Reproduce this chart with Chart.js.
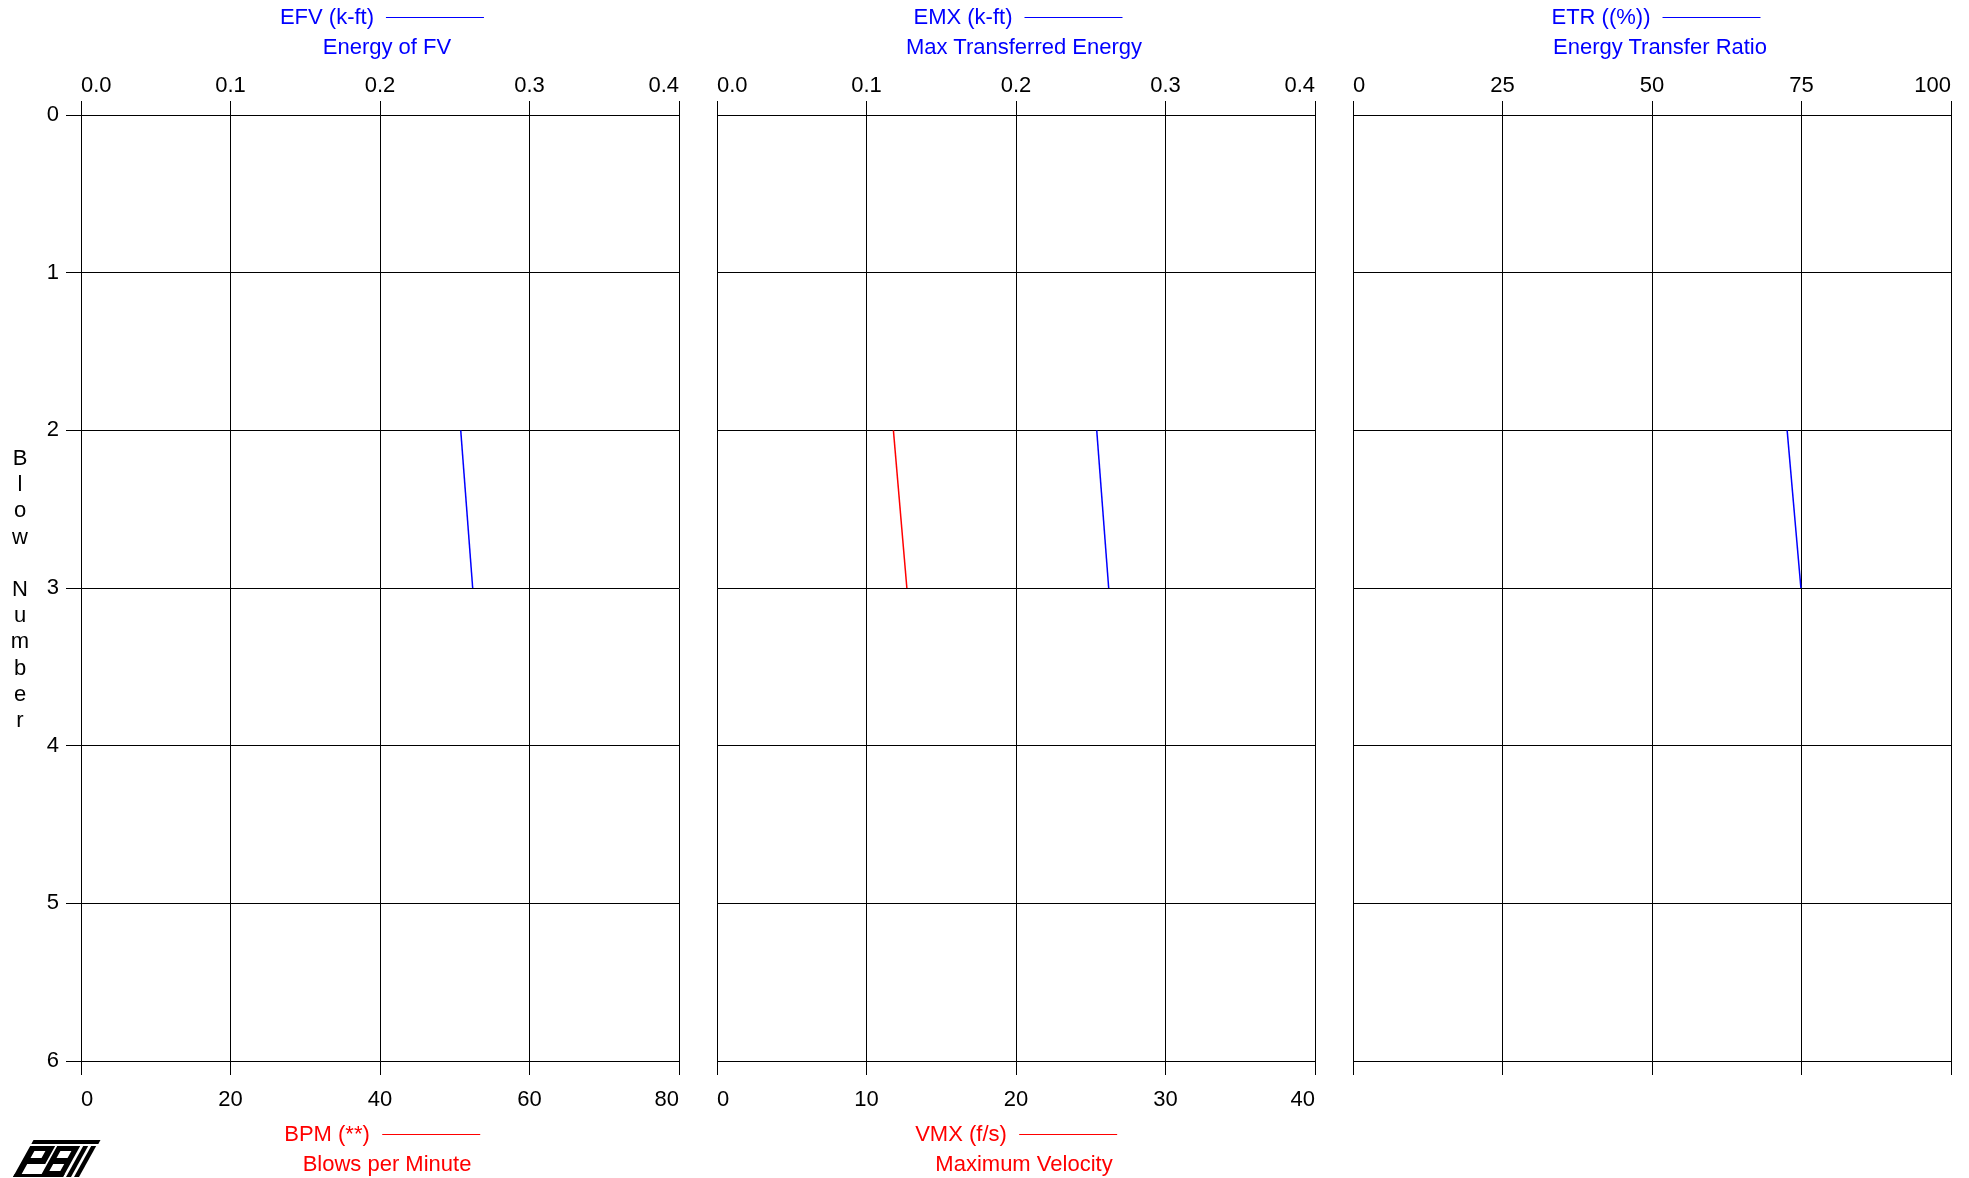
<!DOCTYPE html>
<html>
<head>
<meta charset="utf-8">
<script src="https://cdn.jsdelivr.net/npm/chart.js@4.4.1/dist/chart.umd.min.js"></script>
<style>
  html, body { margin: 0; padding: 0; background: #fff; }
  body { width: 1969px; height: 1178px; position: relative; overflow: hidden;
         font-family: "Liberation Sans", Arial, sans-serif; }
  canvas.panel { position: absolute; left: 0; top: 0; }
  .ttl { position: absolute; font-size: 22px; line-height: 24px; white-space: nowrap;
         transform: translateX(-50%); display: flex; align-items: center; }
  .ttl .key { display: inline-block; width: 98px; height: 0; border-top: 1px solid; margin-left: 12px; }
  .blue { color: #0000ff; }
  .red { color: #ff0000; }
  #ylab { position: absolute; left: 8px; top: 445px; width: 24px; font-size: 22px;
          line-height: 26.2px; text-align: center; color: #000; }
  #logo { position: absolute; left: 0; top: 1125px; }
</style>
</head>
<body>
<canvas id="p1" class="panel" width="1969" height="1178"></canvas>
<canvas id="p2" class="panel" width="1969" height="1178"></canvas>
<canvas id="p3" class="panel" width="1969" height="1178"></canvas>

<div class="ttl blue" style="left:382px; top:5px">EFV (k-ft)<span class="key"></span></div>
<div class="ttl blue" style="left:387px; top:35px">Energy of FV</div>
<div class="ttl blue" style="left:1018px; top:5px">EMX (k-ft)<span class="key"></span></div>
<div class="ttl blue" style="left:1024px; top:35px">Max Transferred Energy</div>
<div class="ttl blue" style="left:1656px; top:5px">ETR ((%))<span class="key"></span></div>
<div class="ttl blue" style="left:1660px; top:35px">Energy Transfer Ratio</div>
<div class="ttl red" style="left:382px; top:1122px">BPM (**)<span class="key"></span></div>
<div class="ttl red" style="left:387px; top:1152px">Blows per Minute</div>
<div class="ttl red" style="left:1016px; top:1122px">VMX (f/s)<span class="key"></span></div>
<div class="ttl red" style="left:1024px; top:1152px">Maximum Velocity</div>

<div id="ylab">B<br>l<br>o<br>w<br>&nbsp;<br>N<br>u<br>m<br>b<br>e<br>r</div>

<svg id="logo" width="110" height="53" viewBox="0 1125 110 53">
  <g transform="translate(13,1177) skewX(-29)" fill="#000">
    <rect x="0" y="-37" width="67" height="4"/>
    <path d="M0,-31 H25 V-13 H7 V0 H0 Z M7,-26 V-19 H18 V-26 Z" fill-rule="evenodd"/>
    <path d="M27,-31 H50 V0 H27 Z M33,-26 V-19 H44 V-26 Z M33,-13 V-6 H44 V-13 Z" fill-rule="evenodd"/>
    <rect x="53" y="-31" width="5" height="31"/>
    <rect x="61" y="-31" width="5" height="31"/>
    <rect x="0" y="-3" width="50" height="3"/>
  </g>
</svg>

<script>
// blow numbers (y axis)
var blowNumbers = [2, 3];

// panel 1: EFV (top axis), BPM (bottom axis, no data recorded)
var efvValues = [0.254, 0.262];
var bpmValues = [];

// panel 2: EMX (top axis), VMX (bottom axis)
var emxValues = [0.254, 0.262];
var vmxValues = [11.8, 12.7];

// panel 3: ETR (top axis)
var etrValues = [72.6, 74.9];

// axis ranges
var blowRange = [0, 6];
var energyRange = [0, 0.4];
var bpmRange = [0, 80];
var vmxRange = [0, 40];
var etrRange = [0, 100];

var BLUE = '#0000ff';
var RED = '#ff0000';
var tickFont = { family: '"Liberation Sans", Arial, sans-serif', size: 22 };

function pts(vals) {
	return vals.map(function (v, i) { return { x: v, y: blowNumbers[i] }; });
}

function makePanel(id, left, right, showY, top, bottom, datasets) {
	var ctx = document.getElementById(id).getContext('2d');
	return new Chart(ctx, {
		type: 'scatter',
		data: { datasets: datasets },
		options: {
			responsive: false,
			animation: false,
			devicePixelRatio: 1,
			layout: { padding: { left: showY ? 0 : left, right: 1969 - right, top: 0, bottom: 0 } },
			plugins: { legend: { display: false }, tooltip: { enabled: false }, title: { display: false } },
			elements: { point: { radius: 0 }, line: { tension: 0 } },
			scales: {
				y: {
					type: 'linear', min: blowRange[0], max: blowRange[1], reverse: true,
					afterFit: function (s) { s.width = showY ? left : 0; },
					ticks: { display: showY, stepSize: 1, color: '#000', font: tickFont, padding: 7 },
					grid: { color: '#000', lineWidth: 1, drawTicks: showY, tickLength: 15 },
					border: { color: '#000', width: 1 }
				},
				xTop: {
					type: 'linear', position: 'top', min: top.range[0], max: top.range[1],
					afterFit: function (s) { s.height = 115; },
					ticks: { stepSize: top.step, color: '#000', font: tickFont, padding: 2, align: 'inner',
						callback: function (v) { return top.fmt(v); }, maxRotation: 0, autoSkip: false },
					grid: { color: '#000', lineWidth: 1, tickLength: 14 },
					border: { color: '#000', width: 1 }
				},
				xBot: {
					type: 'linear', position: 'bottom', min: bottom.range[0], max: bottom.range[1],
					afterFit: function (s) { s.height = 117; },
					ticks: { stepSize: bottom.step, color: '#000', font: tickFont, padding: 12, align: 'inner',
						callback: function (v) { return bottom.fmt ? bottom.fmt(v) : ''; }, maxRotation: 0, autoSkip: false },
					grid: { color: '#000', lineWidth: 1, drawOnChartArea: false, tickLength: 14 },
					border: { color: '#000', width: 1 }
				}
			}
		}
	});
}

var fixed1 = function (v) { return v.toFixed(1); };
var whole = function (v) { return String(Math.round(v)); };

makePanel('p1', 81, 679, true,
	{ range: energyRange, step: 0.1, fmt: fixed1 },
	{ range: bpmRange, step: 20, fmt: whole },
	[
		{ label: 'EFV', data: pts(efvValues), xAxisID: 'xTop', yAxisID: 'y', showLine: true, borderColor: BLUE, borderWidth: 1.5 },
		{ label: 'BPM', data: pts(bpmValues), xAxisID: 'xBot', yAxisID: 'y', showLine: true, borderColor: RED, borderWidth: 1.5 }
	]);

makePanel('p2', 717, 1315, false,
	{ range: energyRange, step: 0.1, fmt: fixed1 },
	{ range: vmxRange, step: 10, fmt: whole },
	[
		{ label: 'EMX', data: pts(emxValues), xAxisID: 'xTop', yAxisID: 'y', showLine: true, borderColor: BLUE, borderWidth: 1.5 },
		{ label: 'VMX', data: pts(vmxValues), xAxisID: 'xBot', yAxisID: 'y', showLine: true, borderColor: RED, borderWidth: 1.5 }
	]);

makePanel('p3', 1353, 1951, false,
	{ range: etrRange, step: 25, fmt: whole },
	{ range: etrRange, step: 25, fmt: null },
	[
		{ label: 'ETR', data: pts(etrValues), xAxisID: 'xTop', yAxisID: 'y', showLine: true, borderColor: BLUE, borderWidth: 1.5 }
	]);
</script>
</body>
</html>
